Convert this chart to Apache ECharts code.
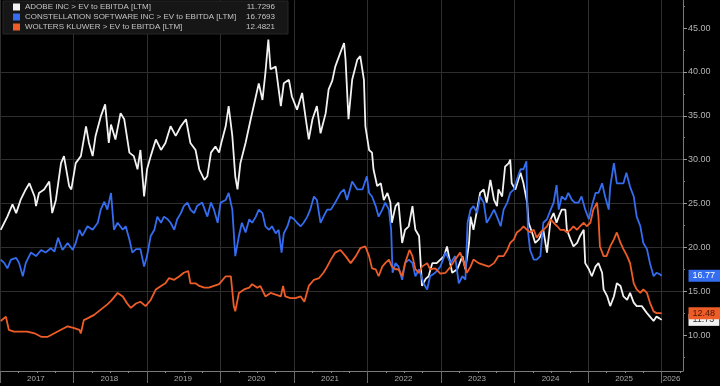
<!DOCTYPE html>
<html><head><meta charset="utf-8">
<script src="https://cdn.jsdelivr.net/npm/echarts@6/dist/echarts.min.js"></script>
<style>html,body{margin:0;padding:0;background:#000}#c{width:720px;height:386px}</style>
</head><body><div id="c"></div>
<script>
const seriesNames = ['ADOBE INC > EV to EBITDA [LTM]', 'CONSTELLATION SOFTWARE INC > EV to EBITDA [LTM]', 'WOLTERS KLUWER > EV to EBITDA [LTM]'];
const lastValues = [11.7296, 16.7693, 12.4821];
const seriesColors = ['#f2f2f2', '#356df0', '#ee5d28'];
const tagTextColors = ['#333333', '#ffffff', '#4a1606'];

const yearTicks = [2017, 2018, 2019, 2020, 2021, 2022, 2023, 2024, 2025, 2026];
const yTicks = [10, 15, 20, 25, 30, 35, 40, 45];

const adobeT = [2017.01,2017.10,2017.17,2017.22,2017.28,2017.35,2017.40,2017.47,2017.49,2017.53,2017.60,2017.67,2017.71,2017.76,2017.83,2017.87,2017.94,2017.97,
2018.03,2018.10,2018.17,2018.21,2018.26,2018.30,2018.37,2018.43,2018.48,2018.51,2018.57,2018.64,2018.69,2018.76,2018.82,2018.87,2018.91,2018.96,
2019.00,2019.05,2019.12,2019.19,2019.25,2019.32,2019.39,2019.46,2019.53,2019.59,2019.66,2019.71,2019.78,2019.82,2019.87,2019.93,2019.98,
2020.01,2020.07,2020.11,2020.16,2020.20,2020.23,2020.27,2020.34,2020.41,2020.48,2020.52,2020.57,2020.61,2020.65,2020.68,2020.75,2020.82,2020.86,2020.93,2020.97,
2021.04,2021.11,2021.16,2021.20,2021.25,2021.31,2021.36,2021.43,2021.47,2021.52,2021.56,2021.63,2021.68,2021.70,2021.74,2021.79,2021.86,2021.90,2021.95,2021.97,
2022.02,2022.06,2022.08,2022.13,2022.18,2022.22,2022.27,2022.31,2022.33,2022.38,2022.42,2022.47,2022.51,2022.56,2022.61,2022.65,2022.70,2022.74,2022.79,2022.83,2022.88,2022.94,
2023.04,2023.08,2023.15,2023.22,2023.29,2023.33,2023.38,2023.40,2023.44,2023.49,2023.53,2023.58,2023.62,2023.67,2023.72,2023.76,2023.78,2023.83,2023.87,2023.92,2023.94,2023.96,
2024.01,2024.08,2024.12,2024.17,2024.19,2024.24,2024.28,2024.33,2024.39,2024.44,2024.49,2024.53,2024.57,2024.60,2024.64,2024.69,2024.71,2024.76,2024.80,2024.85,2024.89,2024.94,2024.96,
2025.01,2025.05,2025.10,2025.14,2025.19,2025.21,2025.26,2025.30,2025.35,2025.39,2025.44,2025.48,2025.53,2025.57,2025.62,2025.66,2025.73,2025.80,2025.84,2025.89,2025.93,2025.97,2026.00];
const adobeV = [22.0,23.5,24.9,23.9,25.4,26.6,27.3,25.8,24.7,26.2,26.6,27.5,23.9,25.4,29.6,30.4,27.0,26.6,
29.6,30.4,33.8,31.9,30.4,32.7,34.9,36.3,31.9,34.0,32.3,35.3,34.6,30.8,30.4,28.9,31.1,25.8,
28.9,30.4,32.3,31.1,31.9,33.8,32.7,33.8,34.6,31.9,31.1,28.9,27.7,28.1,30.8,31.5,30.8,
31.9,33.8,36.1,32.7,28.1,26.6,29.6,31.9,34.6,37.2,38.7,36.8,39.9,43.7,40.3,40.6,36.1,38.7,39.1,37.2,
35.7,37.6,34.6,32.3,34.6,36.1,33.0,35.3,38.0,39.0,40.6,42.2,43.3,41.4,34.6,39.1,41.4,41.8,39.1,33.8,
31.1,30.8,28.9,27.0,27.3,25.4,26.2,25.1,22.8,24.7,25.1,20.5,22.0,22.4,24.7,22.0,21.3,15.6,16.4,16.7,18.2,18.2,
19.0,20.1,17.1,17.5,19.0,17.5,20.5,23.5,22.0,24.3,26.2,26.6,25.1,27.7,25.4,24.7,26.6,25.8,29.2,29.6,30.0,27.3,
26.6,28.5,27.3,25.1,22.8,21.6,20.5,20.9,22.0,19.4,23.2,23.9,22.8,23.5,24.3,24.3,22.0,20.9,20.1,20.5,21.3,22.0,18.2,
17.5,16.7,17.8,18.2,17.1,15.2,14.4,13.3,14.4,15.9,15.6,14.4,14.0,14.8,13.7,13.3,13.3,12.5,12.1,11.6,12.1,11.9,11.7296];

const csuT = [2017.01,2017.06,2017.10,2017.15,2017.22,2017.26,2017.31,2017.35,2017.42,2017.49,2017.56,2017.62,2017.69,2017.74,2017.79,2017.85,2017.92,2017.99,
2018.03,2018.08,2018.12,2018.19,2018.26,2018.33,2018.37,2018.42,2018.46,2018.51,2018.55,2018.60,2018.67,2018.71,2018.76,2018.80,2018.85,2018.91,2018.96,
2019.00,2019.05,2019.10,2019.14,2019.19,2019.23,2019.28,2019.32,2019.37,2019.41,2019.46,2019.50,2019.55,2019.59,2019.64,2019.68,2019.75,2019.82,2019.87,2019.91,2019.96,
2020.00,2020.07,2020.11,2020.16,2020.20,2020.25,2020.29,2020.34,2020.39,2020.43,2020.48,2020.52,2020.57,2020.61,2020.66,2020.70,2020.75,2020.79,2020.83,2020.86,2020.91,2020.95,
2021.00,2021.04,2021.09,2021.13,2021.18,2021.22,2021.27,2021.31,2021.36,2021.40,2021.45,2021.50,2021.56,2021.63,2021.68,2021.72,2021.79,2021.86,2021.93,2021.99,
2022.02,2022.06,2022.11,2022.15,2022.20,2022.24,2022.29,2022.32,2022.34,2022.38,2022.42,2022.47,2022.51,2022.56,2022.61,2022.65,2022.70,2022.76,2022.81,2022.85,2022.92,2022.99,
2023.06,2023.13,2023.19,2023.24,2023.29,2023.33,2023.36,2023.40,2023.44,2023.49,2023.53,2023.58,2023.62,2023.67,2023.72,2023.76,2023.81,2023.85,2023.90,2023.94,2023.99,
2024.03,2024.08,2024.12,2024.16,2024.18,2024.21,2024.26,2024.30,2024.35,2024.39,2024.44,2024.49,2024.53,2024.57,2024.60,2024.64,2024.69,2024.73,2024.78,2024.82,2024.87,2024.91,2024.96,
2025.01,2025.05,2025.10,2025.14,2025.19,2025.23,2025.28,2025.30,2025.35,2025.39,2025.44,2025.48,2025.52,2025.57,2025.62,2025.66,2025.71,2025.75,2025.80,2025.84,2025.89,2025.93,2025.98,2026.00];
const csuV = [18.6,18.2,17.6,18.6,18.8,18.2,16.7,18.2,19.4,19.0,19.7,19.4,19.9,19.5,21.1,19.7,20.5,19.7,
20.5,22.0,21.3,22.4,22.0,22.8,24.3,25.2,24.3,26.2,22.0,22.8,22.0,22.4,20.9,19.4,19.8,19.8,17.8,
19.0,21.3,22.0,23.5,22.8,23.5,23.2,22.8,22.0,23.2,23.9,24.7,25.1,24.3,23.9,24.7,25.1,23.5,25.1,24.3,22.8,
25.1,25.4,26.2,24.3,19.0,21.3,22.8,21.7,23.2,22.8,23.5,24.3,23.9,22.4,22.0,22.4,21.6,22.0,19.4,21.6,22.4,23.5,
23.2,22.8,22.4,22.8,23.5,24.3,25.8,25.4,22.8,23.5,24.3,24.3,25.1,26.2,26.6,25.4,27.5,26.6,26.6,28.1,
26.2,25.8,24.7,23.5,24.3,25.1,24.3,22.0,17.1,18.2,17.8,16.3,18.2,18.6,18.2,16.7,17.5,15.9,15.2,16.7,17.1,17.8,
19.4,18.2,19.0,15.9,16.7,16.3,22.8,24.3,24.7,23.9,25.8,25.1,22.8,23.5,24.3,23.5,22.4,24.3,25.1,26.2,26.6,
27.7,28.9,28.9,29.8,22.0,19.7,18.6,18.6,19.0,22.8,23.2,24.3,25.1,27.1,24.3,25.8,25.4,26.2,25.4,25.1,25.1,25.8,24.3,
23.2,24.7,26.2,26.2,27.3,25.8,24.3,26.9,29.6,27.3,27.3,27.3,28.5,26.9,25.8,23.5,22.4,20.5,19.8,18.2,16.7,17.1,16.9,16.7693];

const wkT = [2017.01,2017.08,2017.12,2017.19,2017.28,2017.37,2017.47,2017.56,2017.65,2017.74,2017.83,2017.92,
2018.01,2018.08,2018.10,2018.14,2018.19,2018.28,2018.37,2018.46,2018.51,2018.60,2018.67,2018.73,2018.78,2018.85,2018.91,2018.98,
2019.05,2019.12,2019.19,2019.25,2019.30,2019.37,2019.44,2019.50,2019.56,2019.59,2019.66,2019.71,2019.78,2019.84,2019.91,2019.98,
2020.07,2020.14,2020.18,2020.20,2020.25,2020.32,2020.39,2020.43,2020.50,2020.54,2020.61,2020.68,2020.75,2020.82,2020.85,2020.88,2020.95,
2021.02,2021.09,2021.14,2021.20,2021.27,2021.34,2021.40,2021.45,2021.50,2021.56,2021.63,2021.70,2021.77,2021.84,2021.90,2021.97,
2022.02,2022.06,2022.11,2022.15,2022.20,2022.24,2022.29,2022.33,2022.38,2022.42,2022.47,2022.51,2022.57,2022.61,2022.65,2022.70,2022.74,2022.81,2022.85,2022.92,2022.99,
2023.06,2023.13,2023.19,2023.26,2023.31,2023.35,2023.40,2023.44,2023.51,2023.58,2023.65,2023.72,2023.78,2023.85,2023.90,2023.94,2023.99,
2024.03,2024.08,2024.12,2024.17,2024.21,2024.26,2024.30,2024.35,2024.39,2024.44,2024.49,2024.53,2024.58,2024.62,2024.67,2024.71,2024.76,2024.80,2024.85,2024.89,2024.94,2024.98,
2025.03,2025.07,2025.12,2025.14,2025.16,2025.21,2025.25,2025.30,2025.35,2025.39,2025.44,2025.48,2025.53,2025.57,2025.62,2025.66,2025.71,2025.75,2025.80,2025.84,2025.89,2025.93,2025.98,2026.00];
const wkV = [11.6,12.1,10.6,10.4,10.4,10.4,10.2,9.8,9.8,10.2,10.6,11.0,
10.8,10.6,10.2,11.7,11.9,12.3,12.9,13.5,13.9,14.8,14.4,13.6,13.1,13.6,13.8,13.3,
14.0,15.2,15.6,15.9,16.5,16.3,16.7,17.1,17.3,15.9,15.9,15.6,15.4,15.4,15.6,15.8,
16.7,16.7,13.3,12.7,14.8,15.2,15.4,15.8,15.4,15.6,14.4,14.8,14.6,14.4,15.6,14.4,14.2,
14.2,14.4,13.8,15.6,16.3,16.5,17.1,17.8,18.6,19.4,19.7,19.0,18.2,19.0,19.9,20.1,
19.0,17.6,17.5,16.7,17.8,18.2,18.6,17.8,17.5,17.5,16.7,18.2,19.7,19.0,17.5,17.1,17.8,18.2,17.5,17.6,17.0,
17.1,17.8,18.6,19.4,18.2,17.1,17.8,18.6,18.2,18.0,17.8,18.2,19.0,19.0,19.7,20.5,20.9,
21.7,22.0,22.4,22.0,21.7,22.0,21.1,21.7,22.0,22.4,23.2,22.8,22.4,22.0,22.0,21.7,22.0,22.4,22.0,22.4,22.8,22.4,
22.8,24.3,25.1,23.5,20.1,19.0,19.0,20.1,20.9,21.7,20.5,19.8,19.0,18.2,15.9,15.2,14.8,15.2,14.8,13.7,12.7,12.5,12.5,12.4821];

const X_MIN = 2017, X_MAX = 2026.29, Y_MIN = 5.9, Y_MAX = 48.2;
const FONT = "'Liberation Sans', Arial, sans-serif";

const tArrs = [adobeT, csuT, wkT];
const vArrs = [adobeV, csuV, wkV];

const chart = echarts.init(document.getElementById('c'), null, {renderer: 'canvas'});

const series = seriesNames.map((name, i) => {
  const data = tArrs[i].map((t, k) => [t, vArrs[i][k]]);
  const last = vArrs[i][vArrs[i].length - 1];
  return {
    name, type: 'line', data, showSymbol: false, symbol: 'none', z: 2 + i,
    lineStyle: {color: seriesColors[i], width: 1.8},
    itemStyle: {color: seriesColors[i]},
    markPoint: {
      symbol: 'rect', symbolSize: 1, silent: true, animation: false,
      itemStyle: {color: 'rgba(0,0,0,0)'},
      data: [{coord: [X_MAX, last], value: last}],
      label: {
        show: true, position: 'right', distance: 5,
        formatter: p => Number(p.value).toFixed(2),
        backgroundColor: seriesColors[i], color: tagTextColors[i],
        fontSize: 9, fontFamily: FONT, padding: [1, 5, 0, 4], lineHeight: 11
      }
    }
  };
});

const option = {
  backgroundColor: '#000000',
  animation: false,
  legend: {
    show: true, left: 3, top: 1, orient: 'vertical', selectedMode: false,
    icon: 'rect', itemWidth: 7, itemHeight: 7, itemGap: 2,
    padding: [2, 13, 3, 10], backgroundColor: '#161616', borderColor: '#262626', borderWidth: 1,
    data: seriesNames,
    formatter: name => {
      const i = seriesNames.indexOf(name);
      return '{n|' + name + '}{v|' + lastValues[i].toFixed(4) + '}';
    },
    textStyle: {
      color: '#c4c4c4', fontSize: 8, fontFamily: FONT,
      rich: {
        n: {width: 206, fontSize: 8, color: '#c4c4c4', fontFamily: FONT},
        v: {width: 44, align: 'right', fontSize: 8, color: '#c4c4c4', fontFamily: FONT}
      }
    }
  },
  grid: {left: 0, right: 37, top: 0, bottom: 15, containLabel: false, outerBoundsMode: 'none'},
  xAxis: {
    type: 'value', min: X_MIN, max: X_MAX, interval: 1,
    axisLine: {show: true, lineStyle: {color: '#7a7a7a', width: 1}},
    axisTick: {show: true, length: 12, customValues: yearTicks, lineStyle: {color: '#6a6a6a'}},
    minorTick: {show: true, splitNumber: 4, length: 2, lineStyle: {color: '#8a8a8a'}},
    splitLine: {show: true, lineStyle: {color: '#2e2e2e', width: 1}},
    axisLabel: {
      show: true, customValues: yearTicks, color: '#a8a8a8', fontSize: 8, fontFamily: FONT,
      margin: 4, align: 'left',
      formatter: v => {
        const y = Math.round(v);
        if (Math.abs(v - y) > 1e-6) return '';
        return y === yearTicks[yearTicks.length - 1] ? '{e|' + y + '}' : '{c|' + y + '}';
      },
      rich: {
        c: {padding: [0, 0, 0, 27], color: '#a8a8a8', fontSize: 8, fontFamily: FONT},
        e: {padding: [0, 0, 0, 1], color: '#a8a8a8', fontSize: 8, fontFamily: FONT}
      }
    }
  },
  yAxis: {
    type: 'value', position: 'right', min: Y_MIN, max: Y_MAX, minInterval: 5, maxInterval: 5,
    axisLine: {show: true, lineStyle: {color: '#7a7a7a', width: 1}},
    axisTick: {show: true, length: 4, customValues: yTicks, lineStyle: {color: '#9a9a9a'}},
    minorTick: {show: true, splitNumber: 2, length: 2, lineStyle: {color: '#7a7a7a'}},
    splitLine: {show: true, showMinLine: false, showMaxLine: false, lineStyle: {color: '#2e2e2e', width: 1}},
    axisLabel: {
      show: true, customValues: yTicks, color: '#b4b4b4', fontSize: 9, fontFamily: FONT, margin: 5,
      formatter: v => Number(v).toFixed(2)
    }
  },
  series
};
chart.setOption(option);
</script></body></html>
